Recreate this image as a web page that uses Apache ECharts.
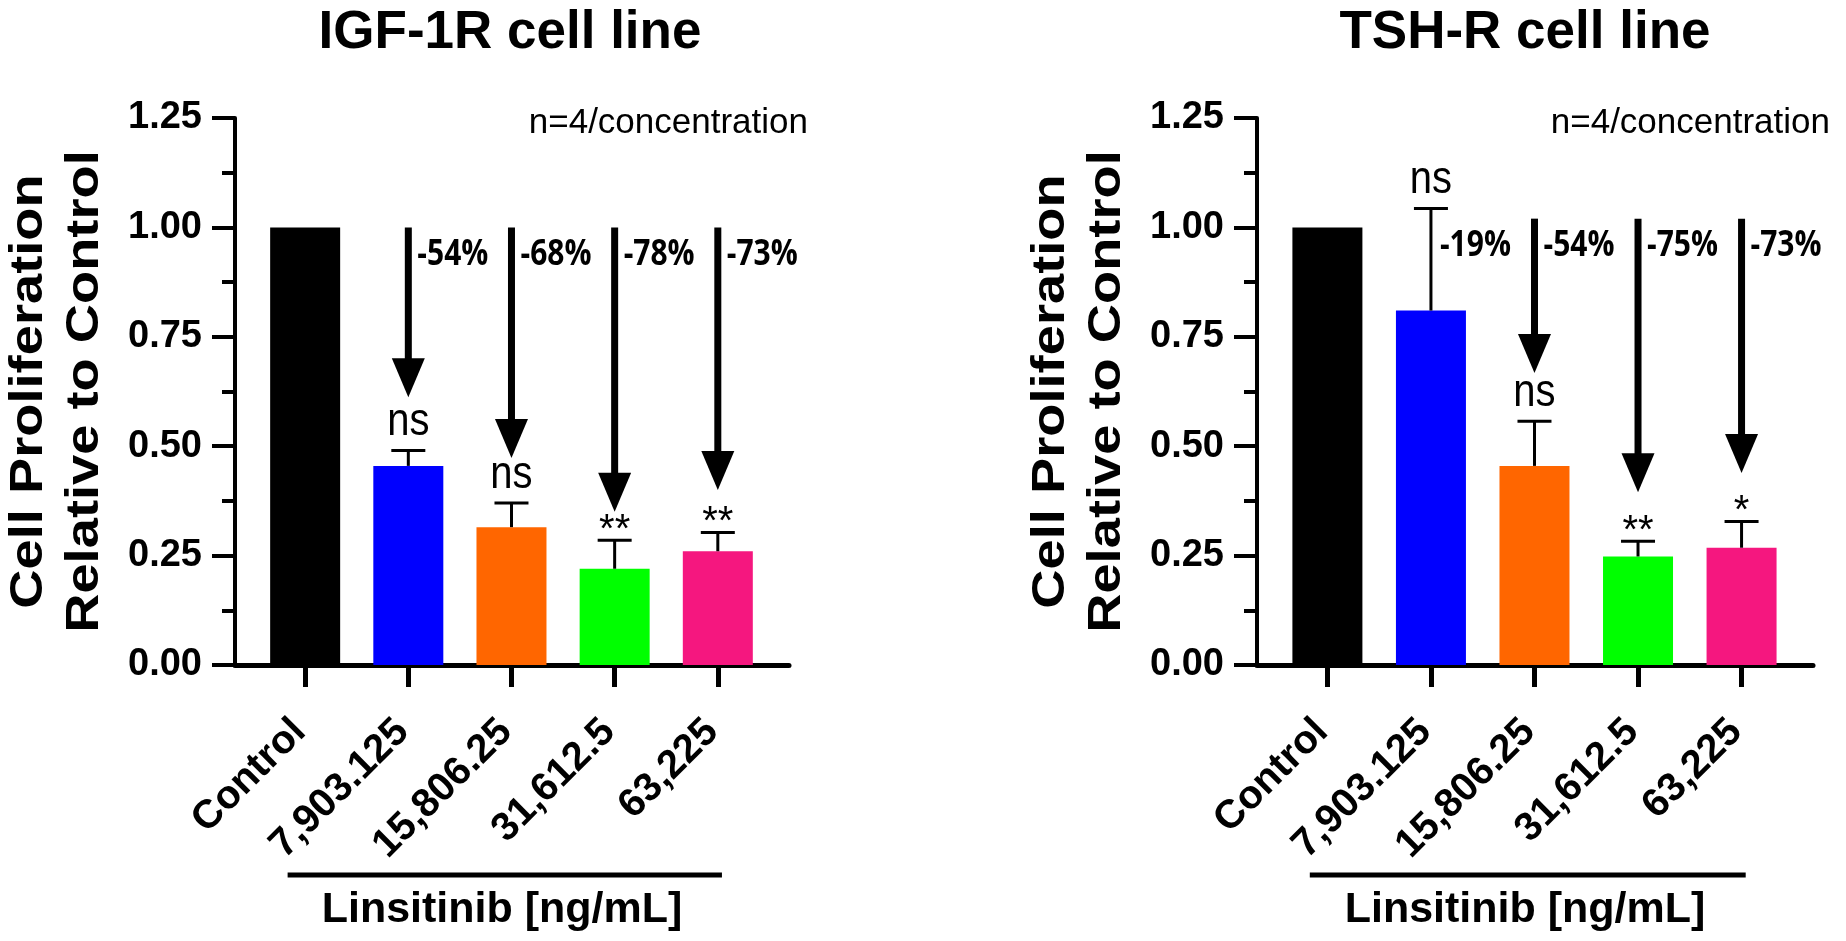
<!DOCTYPE html>
<html>
<head>
<meta charset="utf-8">
<script src="https://cdn.jsdelivr.net/npm/echarts@6/dist/echarts.min.js"></script>
<style>
html, body { margin: 0; padding: 0; background: #fff; }
#main { width: 1846px; height: 941px; }
</style>
</head>
<body>
<div id="main"></div>
<script>
// categories and colours
var categories = ['Control', '7,903.125', '15,806.25', '31,612.5', '63,225'];
var barColors = ['#000000', '#0000FF', '#FF6600', '#00FF00', '#F5177F'];
var panelTitles = ['IGF-1R cell line', 'TSH-R cell line'];

// IGF-1R cell line
var igfMean = [1.00, 0.455, 0.315, 0.22, 0.26];
var igfSdTop = [null, 0.49, 0.37, 0.285, 0.303];
var igfSig = ['', 'ns', 'ns', '**', '**'];
var igfPct = ['', '-54%', '-68%', '-78%', '-73%'];
var igfArrowTip = [null, 0.612, 0.473, 0.35, 0.40];
var igfArrowStart = 1.00;

// TSH-R cell line
var tshMean = [1.00, 0.81, 0.455, 0.248, 0.268];
var tshSdTop = [null, 1.043, 0.557, 0.283, 0.328];
var tshSig = ['', 'ns', 'ns', '**', '*'];
var tshPct = ['', '-19%', '-54%', '-75%', '-73%'];
var tshArrowTip = [null, null, 0.667, 0.395, 0.439];
var tshArrowStart = 1.02;

// axis
var yMin = 0, yMax = 1.25, yStep = 0.25;
var xName = 'Linsitinib [ng/mL]';
var yName = 'Cell Proliferation\nRelative to Control';
var nLabel = 'n=4/concentration';

var panels = [
	{ mean: igfMean, sdTop: igfSdTop, sig: igfSig, pct: igfPct, tip: igfArrowTip, start: igfArrowStart },
	{ mean: tshMean, sdTop: tshSdTop, sig: tshSig, pct: tshPct, tip: tshArrowTip, start: tshArrowStart }
];

var FONT = '"Liberation Sans", Arial, sans-serif';
var catIdx = categories.map(function(c, i) { return i; });
var grids = [
	{ left: 235, top: 118, width: 554, height: 547 },
	{ left: 1257, top: 118, width: 556, height: 547 }
];

var myChart = echarts.init(document.getElementById('main'));

var xAxes = [], yAxes = [], series = [];
panels.forEach(function(p, i) {
	xAxes.push({
		type: 'value', gridIndex: i, min: -0.68, max: 4.69,
		axisLine: { show: true, onZero: false, lineStyle: { color: '#000', width: 5 } },
		axisTick: { show: true, customValues: catIdx, length: 22, lineStyle: { color: '#000', width: 5 } },
		axisLabel: {
			customValues: catIdx,
			formatter: function(v) { return categories[Math.round(v)]; },
			rotate: 45, verticalAlign: 'middle', margin: 55, padding: [0, 8, 0, 0],
			color: '#000', fontSize: 40, fontWeight: 'bold', fontFamily: FONT
		},
		splitLine: { show: false },
		name: xName, nameLocation: 'middle', nameGap: 224,
		nameTextStyle: { color: '#000', fontSize: 43, fontWeight: 'bold', fontFamily: FONT, padding: [0, 20, 0, 0] }
	});
	yAxes.push({
		type: 'value', gridIndex: i, min: yMin, max: yMax, interval: yStep,
		axisLine: { show: true, onZero: false, lineStyle: { color: '#000', width: 4 } },
		axisTick: { show: true, length: 23, lineStyle: { color: '#000', width: 4 } },
		minorTick: { show: true, splitNumber: 2, length: 13, lineStyle: { color: '#000', width: 4 } },
		axisLabel: {
			formatter: function(v) { return v.toFixed(2); },
			margin: 33, color: '#000', fontSize: 38, fontWeight: 'bold', fontFamily: FONT
		},
		splitLine: { show: false }
	});
	// bars
	series.push({
		type: 'bar', xAxisIndex: i, yAxisIndex: i, barWidth: 70, z: 2,
		data: p.mean.map(function(v, k) {
			return { value: [k, v], itemStyle: { color: barColors[k] } };
		})
	});
	// error bars + significance
	series.push({
		type: 'custom', xAxisIndex: i, yAxisIndex: i, z: 3,
		data: p.mean.map(function(v, k) { return [k, v, p.sdTop[k] == null ? v : p.sdTop[k]]; }),
		renderItem: function(params, api) {
			var k = params.dataIndex;
			var base = api.coord([api.value(0), api.value(1)]);
			var top = api.coord([api.value(0), api.value(2)]);
			var ch = [];
			if (p.sdTop[k] != null) {
				ch.push({ type: 'line', shape: { x1: base[0], y1: base[1], x2: top[0], y2: top[1] }, style: { stroke: '#000', lineWidth: 3 } });
				ch.push({ type: 'line', shape: { x1: top[0] - 17, y1: top[1], x2: top[0] + 17, y2: top[1] }, style: { stroke: '#000', lineWidth: 3 } });
			}
			if (p.sig[k]) {
				var stars = p.sig[k].indexOf('*') >= 0;
				ch.push({
					type: 'text', x: top[0], y: top[1] - (stars ? 9 : 28), scaleY: stars ? 1 : 1.15,
					style: { text: p.sig[k], fill: '#000', font: '40px ' + FONT, align: 'center', verticalAlign: 'middle', textAlign: 'center', textVerticalAlign: 'middle' }
				});
			}
			return { type: 'group', children: ch };
		}
	});
	// arrows + percentage labels
	series.push({
		type: 'custom', xAxisIndex: i, yAxisIndex: i, z: 4,
		data: p.pct.map(function(t, k) { return [k, p.start, p.tip[k] == null ? p.start : p.tip[k]]; }),
		renderItem: function(params, api) {
			var k = params.dataIndex;
			var ch = [];
			var s = api.coord([api.value(0), api.value(1)]);
			if (p.tip[k] != null) {
				var t = api.coord([api.value(0), api.value(2)]);
				var headLen = 39, headW = 33;
				ch.push({ type: 'rect', shape: { x: s[0] - 3.5, y: s[1], width: 7, height: t[1] - headLen - s[1] + 1 }, style: { fill: '#000' } });
				ch.push({ type: 'polygon', shape: { points: [[t[0] - headW / 2, t[1] - headLen], [t[0] + headW / 2, t[1] - headLen], [t[0], t[1]]] }, style: { fill: '#000' } });
			}
			if (p.pct[k]) {
				ch.push({
					type: 'text', x: s[0] + 9, y: s[1] + 27, scaleY: 1.2,
					style: { text: p.pct[k], fill: '#000', font: 'bold 30px "Open Sans", sans-serif', align: 'left', verticalAlign: 'middle', textAlign: 'left', textVerticalAlign: 'middle' }
				});
			}
			return { type: 'group', children: ch };
		}
	});
});

var option = {
	animation: false,
	backgroundColor: '#fff',
	grid: grids,
	xAxis: xAxes,
	yAxis: yAxes,
	series: series
};
myChart.setOption(option);

// titles, y-axis title, n label and the bracket under the concentrations
var graphics = [];
var titleX = [510, 1525];
var nRight = [808, 1830];
panels.forEach(function(p, i) {
	var g = grids[i];
	graphics.push({
		type: 'text', x: titleX[i], y: 33,
		style: { text: panelTitles[i], fill: '#000', font: 'bold 53px ' + FONT, align: 'center', verticalAlign: 'middle', textAlign: 'center', textVerticalAlign: 'middle' }
	});
	graphics.push({
		type: 'text', x: g.left - 178, y: g.top + g.height / 2, rotation: Math.PI / 2, scaleX: 1.18,
		style: { text: yName, fill: '#000', font: 'bold 46px ' + FONT, lineHeight: 56, align: 'center', verticalAlign: 'middle', textAlign: 'center', textVerticalAlign: 'middle' }
	});
	graphics.push({
		type: 'text', x: nRight[i], y: 123,
		style: { text: nLabel, fill: '#000', font: '35px ' + FONT, align: 'right', verticalAlign: 'middle', textAlign: 'right', textVerticalAlign: 'middle' }
	});
	var a = myChart.convertToPixel({ gridIndex: i }, [-0.17, -0.48]);
	var b = myChart.convertToPixel({ gridIndex: i }, [4.04, -0.48]);
	graphics.push({
		type: 'line', shape: { x1: a[0], y1: a[1], x2: b[0], y2: b[1] },
		style: { stroke: '#000', lineWidth: 5 }
	});
});
myChart.setOption({ graphic: graphics });
</script>
</body>
</html>
